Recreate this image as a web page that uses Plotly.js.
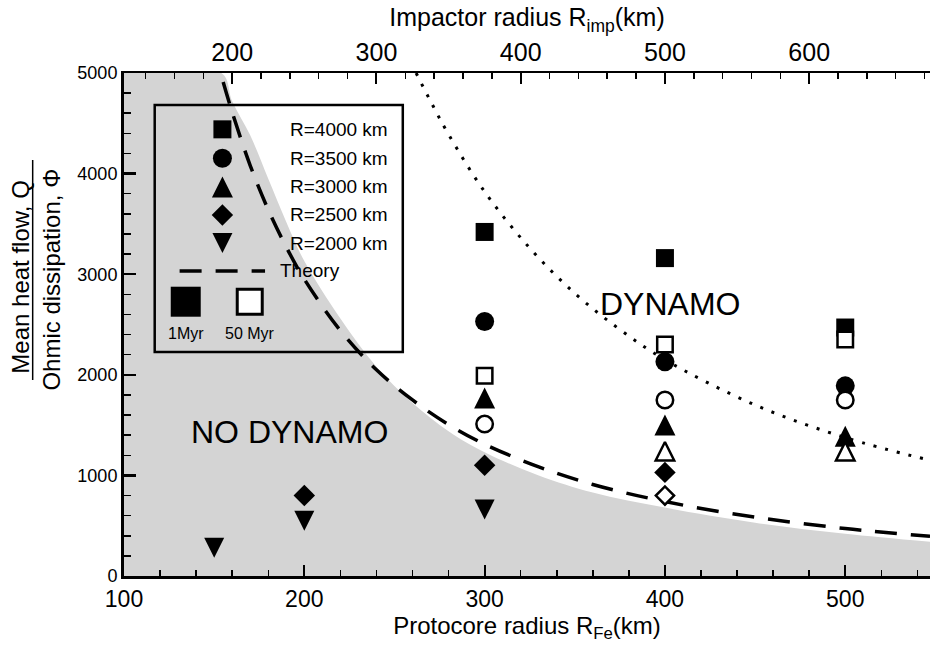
<!DOCTYPE html>
<html>
<head>
<meta charset="utf-8">
<script src="https://cdn.plot.ly/plotly-3.0.1.min.js"></script>
<style>html,body{margin:0;padding:0;background:#fff;}#chart{width:930px;height:660px;}</style>
</head>
<body>
<div id="chart"></div>
<script>
// ---------- data ----------
// Protocore radius R_Fe (km) and Q/Phi values, by planet radius and time
const sq1_x = [300, 400, 500];   const sq1_y = [3420, 3160, 2470];   // R=4000 km, 1 Myr
const sq50_x = [300, 400, 500];  const sq50_y = [1990, 2300, 2350];  // R=4000 km, 50 Myr
const ci1_x = [300, 400, 500];   const ci1_y = [2530, 2130, 1890];   // R=3500 km, 1 Myr
const ci50_x = [300, 400, 500];  const ci50_y = [1510, 1750, 1750];  // R=3500 km, 50 Myr
const tr1_x = [300, 400, 500];   const tr1_y = [1770, 1500, 1390];   // R=3000 km, 1 Myr
const tr50_x = [400, 500];       const tr50_y = [1240, 1240];        // R=3000 km, 50 Myr
const di1_x = [200, 300, 400];   const di1_y = [800, 1100, 1030];    // R=2500 km, 1 Myr
const di50_x = [400];            const di50_y = [800];               // R=2500 km, 50 Myr
const td1_x = [150, 200, 300];   const td1_y = [280, 550, 660];      // R=2000 km, 1 Myr

// Theory curve (dashed)
const theory_x = [155, 160, 170, 180, 190, 200, 220, 240, 260, 280, 300, 330, 360, 400, 450, 500, 547];
const theory_y = [4910, 4610, 4080, 3640, 3270, 2950, 2440, 2050, 1750, 1505, 1310, 1085, 910, 740, 585, 472, 394];

// Dotted curve
const dotted_x = [262, 270, 280, 300, 325, 350, 375, 400, 450, 500, 547];
const dotted_y = [5000, 4720, 4390, 3820, 3260, 2810, 2450, 2150, 1700, 1376, 1150];

// Boundary of the grey "no dynamo" region
const grey_x = [100, 154, 160, 170, 180, 190, 200, 220, 240, 260, 280, 300, 330, 360, 400, 450, 500, 547];
const grey_y = [5000, 5000, 4720, 4380, 3950, 3520, 3130, 2560, 2080, 1720, 1440, 1230, 1000, 830, 680, 530, 420, 340];

// Axis settings
const xRange = [100, 547];
const yRange = [0, 5000];
const impFactor = 1.25;  // R_imp = 1.25 R_Fe (top axis)

const legendLabels = ['R=4000 km', 'R=3500 km', 'R=3000 km', 'R=2500 km', 'R=2000 km'];

// ---------- styles ----------
const FONT = 'Liberation Sans, Arial, Helvetica, sans-serif';
const SQ = 18, CI = 19, TR = 21, DI = 16.5, TD = 20;

// up triangle = arrow-down rotated 180 deg, centred with standoff; down triangle = arrow-down centred
function symStyle(kind, size) {
  if (kind === 'up') return {symbol: 'arrow-down', angle: 180, standoff: size / 2};
  if (kind === 'down') return {symbol: 'arrow-down', angle: 0, standoff: size / 2};
  return {symbol: kind};
}

function pts(x, y, kind, size, open) {
  const s = open ? size - 2.5 : size;
  const m = Object.assign({
    size: s, color: open ? 'white' : 'black',
    line: {color: 'black', width: open ? 2.5 : 0}
  }, symStyle(kind, s));
  return {x: x, y: y, type: 'scatter', mode: 'markers', showlegend: false, hoverinfo: 'skip', marker: m};
}

const traces = [
  // grey no-dynamo region
  {x: grey_x, y: grey_y, type: 'scatter', mode: 'lines', fill: 'tozeroy',
   fillcolor: '#d4d4d4', line: {width: 0, color: 'rgba(0,0,0,0)', shape: 'spline'}, showlegend: false, hoverinfo: 'skip'},
  // theory dashed
  {x: theory_x, y: theory_y, type: 'scatter', mode: 'lines', line: {color: 'black', width: 3.5, dash: '22px,14px', shape: 'spline'},
   showlegend: false, hoverinfo: 'skip'},
  // dotted
  {x: dotted_x, y: dotted_y, type: 'scatter', mode: 'lines', line: {color: 'black', width: 3, dash: '3px,9px', shape: 'spline'},
   showlegend: false, hoverinfo: 'skip'},
  pts(sq1_x, sq1_y, 'square', SQ, false),
  pts(sq50_x, sq50_y, 'square', SQ, true),
  pts(ci1_x, ci1_y, 'circle', CI, false),
  pts(ci50_x, ci50_y, 'circle', CI, true),
  pts(tr1_x, tr1_y, 'up', TR, false),
  pts(tr50_x, tr50_y, 'up', TR, true),
  pts(di1_x, di1_y, 'diamond', DI, false),
  pts(di50_x, di50_y, 'diamond', DI, true),
  pts(td1_x, td1_y, 'down', TD, false),
  // top axis carrier (invisible)
  {x: [xRange[0] * impFactor, xRange[1] * impFactor], y: [0, 0], xaxis: 'x2', yaxis: 'y', type: 'scatter', mode: 'markers',
   marker: {opacity: 0}, showlegend: false, hoverinfo: 'skip'}
];

// ---------- legend (inside box, on an overlay 0..1 frame) ----------
const legX = 0.1221;
const legY = [0.888, 0.8304, 0.7734, 0.7177, 0.662];
const legKind = ['square', 'circle', 'up', 'diamond', 'down'];
const legSize = [SQ, CI, TR, DI, TD];
legKind.forEach((k, i) => {
  const m = Object.assign({size: legSize[i], color: 'black', line: {width: 0}}, symStyle(k, legSize[i]));
  traces.push({x: [legX], y: [legY[i]], xaxis: 'x3', yaxis: 'y3', type: 'scatter', mode: 'markers',
    marker: m, showlegend: false, hoverinfo: 'skip'});
});
traces.push({x: [0.069, 0.175], y: [0.6064, 0.6064], xaxis: 'x3', yaxis: 'y3', type: 'scatter', mode: 'lines',
  line: {color: 'black', width: 3.5, dash: '22px,14px'}, showlegend: false, hoverinfo: 'skip'});
traces.push({x: [0.0766], y: [0.5453], xaxis: 'x3', yaxis: 'y3', type: 'scatter', mode: 'markers',
  marker: {symbol: 'square', size: 30, color: 'black'}, showlegend: false, hoverinfo: 'skip'});
traces.push({x: [0.156], y: [0.5453], xaxis: 'x3', yaxis: 'y3', type: 'scatter', mode: 'markers',
  marker: {symbol: 'square', size: 25, color: 'white', line: {color: 'black', width: 3}}, showlegend: false, hoverinfo: 'skip'});

const annotations = [];
legendLabels.forEach((t, i) => {
  annotations.push({xref: 'paper', yref: 'paper', x: 0.3297, y: legY[i], xanchor: 'right', yanchor: 'middle',
    text: t, showarrow: false, font: {family: FONT, size: 19, color: 'black'}});
});
annotations.push({xref: 'paper', yref: 'paper', x: 0.1907, y: 0.6064, xanchor: 'left', yanchor: 'middle',
  text: 'Theory', showarrow: false, font: {family: FONT, size: 19, color: 'black'}});
annotations.push({xref: 'paper', yref: 'paper', x: 0.0766, y: 0.4831, xanchor: 'center', yanchor: 'middle',
  text: '1Myr', showarrow: false, font: {family: FONT, size: 16, color: 'black'}});
annotations.push({xref: 'paper', yref: 'paper', x: 0.156, y: 0.4831, xanchor: 'center', yanchor: 'middle',
  text: '50 Myr', showarrow: false, font: {family: FONT, size: 16, color: 'black'}});
// region labels
annotations.push({xref: 'paper', yref: 'paper', x: 0.2057, y: 0.2863, xanchor: 'center', yanchor: 'middle',
  text: 'NO DYNAMO', showarrow: false, font: {family: FONT, size: 32, color: 'black'}});
annotations.push({xref: 'paper', yref: 'paper', x: 0.677, y: 0.5412, xanchor: 'center', yanchor: 'middle',
  text: 'DYNAMO', showarrow: false, font: {family: FONT, size: 32, color: 'black'}});
// y-axis fraction title
annotations.push({xref: 'paper', yref: 'paper', x: -0.1295, y: 0.5944, xanchor: 'center', yanchor: 'middle',
  text: 'Mean heat flow, Q', textangle: -90, showarrow: false, font: {family: FONT, size: 24, color: 'black'}});
annotations.push({xref: 'paper', yref: 'paper', x: -0.0898, y: 0.5885, xanchor: 'center', yanchor: 'middle',
  text: 'Ohmic dissipation, Φ', textangle: -90, showarrow: false, font: {family: FONT, size: 24, color: 'black'}});

const shapes = [
  {type: 'rect', xref: 'paper', yref: 'paper', x0: 0.0381, x1: 0.3459, y0: 0.4453, y1: 0.9364,
   line: {color: 'black', width: 2.5}, fillcolor: 'rgba(0,0,0,0)'},
  {type: 'line', xref: 'paper', yref: 'paper', x0: -0.1133, x1: -0.1133, y0: 0.3897, y1: 0.827,
   line: {color: 'black', width: 1.5}}
];

const layout = {
  width: 930, height: 660,
  margin: {l: 124, r: 0, t: 73, b: 84, pad: 0},
  paper_bgcolor: 'white', plot_bgcolor: 'white',
  font: {family: FONT, color: 'black'},
  showlegend: false,
  xaxis: {
    range: xRange, tick0: 100, dtick: 100, ticks: 'inside', ticklen: 11, tickwidth: 2, tickcolor: 'black',
    showline: true, linewidth: 3, linecolor: 'black', mirror: false, showgrid: false, zeroline: false,
    minor: {dtick: 20, tick0: 100, ticks: 'inside', ticklen: 6, tickwidth: 1.5, tickcolor: 'black', showgrid: false},
    tickfont: {family: FONT, size: 23, color: 'black'},
    title: {text: 'Protocore radius R<sub>Fe</sub>(km)', font: {family: FONT, size: 24, color: 'black'}, standoff: 6}
  },
  xaxis2: {
    overlaying: 'x', side: 'top', anchor: 'y',
    range: [xRange[0] * impFactor, xRange[1] * impFactor], tick0: 0, dtick: 100,
    ticks: 'inside', ticklen: 11, tickwidth: 2, tickcolor: 'black',
    showline: true, linewidth: 2, linecolor: 'black', showgrid: false, zeroline: false,
    minor: {dtick: 20, tick0: 0, ticks: 'inside', ticklen: 6, tickwidth: 1.5, tickcolor: 'black', showgrid: false},
    tickfont: {family: FONT, size: 25, color: 'black'},
    title: {text: 'Impactor radius R<sub>imp</sub>(km)', font: {family: FONT, size: 25, color: 'black'}, standoff: 4}
  },
  yaxis: {
    range: yRange, tick0: 0, dtick: 1000, ticks: 'inside', ticklen: 12, tickwidth: 2.5, tickcolor: 'black',
    showline: true, linewidth: 3, linecolor: 'black', mirror: false, showgrid: false, zeroline: false,
    minor: {dtick: 200, tick0: 0, ticks: 'inside', ticklen: 7, tickwidth: 1.5, tickcolor: 'black', showgrid: false},
    tickfont: {family: FONT, size: 18, color: 'black'}
  },
  xaxis3: {overlaying: 'x', range: [0, 1], visible: false, fixedrange: true},
  yaxis3: {overlaying: 'y', range: [0, 1], visible: false, fixedrange: true},
  annotations: annotations,
  shapes: shapes
};

Plotly.newPlot('chart', traces, layout, {displayModeBar: false, staticPlot: true});
</script>
</body>
</html>
